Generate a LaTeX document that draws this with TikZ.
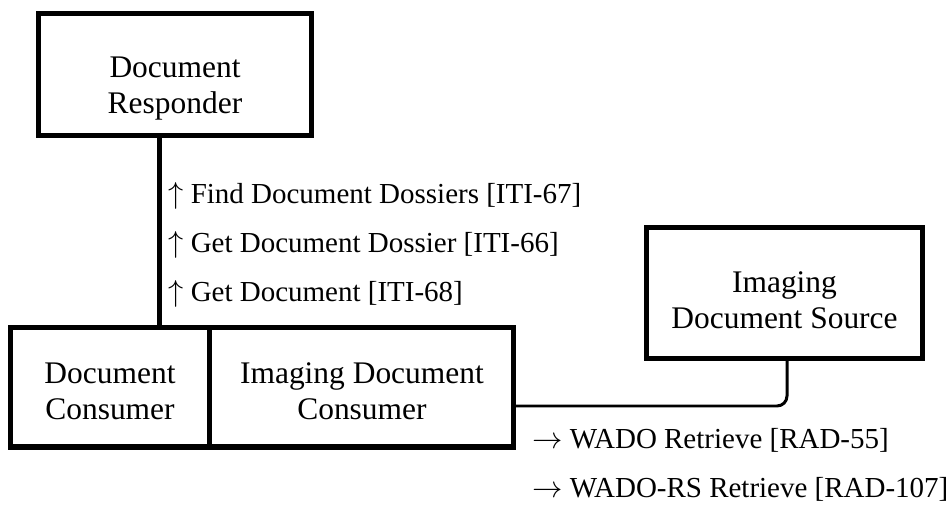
\documentclass[tikz,border=0pt]{standalone}
\usepackage{fontspec}
\setmainfont{Liberation Serif}
\usetikzlibrary{positioning}

\begin{document}
\begin{tikzpicture}[x=0.02cm, y=-0.02cm]
  \newcommand\boxlinewidth{2.85pt} % the boxes and the responder line
  \newcommand\wirelinewidth{1.7pt}
  \newcommand\boxfont{\fontsize{17.9pt}{20.5pt}\selectfont}
  \newcommand\msgfont{\fontsize{16.5pt}{19pt}\selectfont}
  \newcommand\msgspacing{0.99cm}

  \tikzset{actor/.style={draw, line width=\boxlinewidth, inner sep=0pt, outer sep=0pt}}
  \tikzset{actortext/.style={align=center, inner sep=0pt, font=\boxfont}}
  \tikzset{msg/.style={anchor=base west, inner sep=0pt, font=\msgfont}}

  \useasboundingbox (0, 0) rectangle (952, 504);

  \node[actor, minimum width=5.48cm, minimum height=2.46cm] at (175, 74.5) (resp) {};
  \node[actor, minimum width=4cm, minimum height=2.4cm] at (110, 387) (dc) {};
  \node[actor, minimum width=6.08cm, minimum height=2.4cm, right=0pt of dc] (idc) {};
  \node[actor, minimum width=5.54cm, minimum height=2.64cm] at (784.5, 293) (src) {};

  \node[actortext] at ([yshift=-0.28cm]resp.center) (resp-txt) {Document\\Responder};
  \node[actortext] at ([yshift=-0.08cm]dc.center) (dc-txt) {Document\\Consumer};
  \node[actortext] at ([yshift=-0.08cm]idc.center) (idc-txt) {Imaging Document\\Consumer};
  \node[actortext] at ([yshift=-0.14cm]src.center) (src-txt) {Imaging\\Document Source};

  \draw[line width=\boxlinewidth] ([xshift=-0.32cm]resp.south) -- ([xshift=-0.32cm]resp.south |- dc.north);
  \draw[line width=\wirelinewidth, rounded corners=0.2cm] ([xshift=0.05cm]src.south) |- ([yshift=-0.38cm]idc.east);

  \node[msg] at (168, 203) (find) {$\uparrow$ Find Document Dossiers [ITI-67]};
  \node[msg, below=\msgspacing of find.base west, anchor=base west] (getdossier) {$\uparrow$ Get Document Dossier [ITI-66]};
  \node[msg, below=\msgspacing of getdossier.base west, anchor=base west] (getdoc) {$\uparrow$ Get Document [ITI-68]};

  \node[msg] at (532, 448) (wado) {$\rightarrow$ WADO Retrieve [RAD-55]};
  \node[msg, below=\msgspacing of wado.base west, anchor=base west] (wadors) {$\rightarrow$ WADO-RS Retrieve [RAD-107]};
\end{tikzpicture}
\end{document}
